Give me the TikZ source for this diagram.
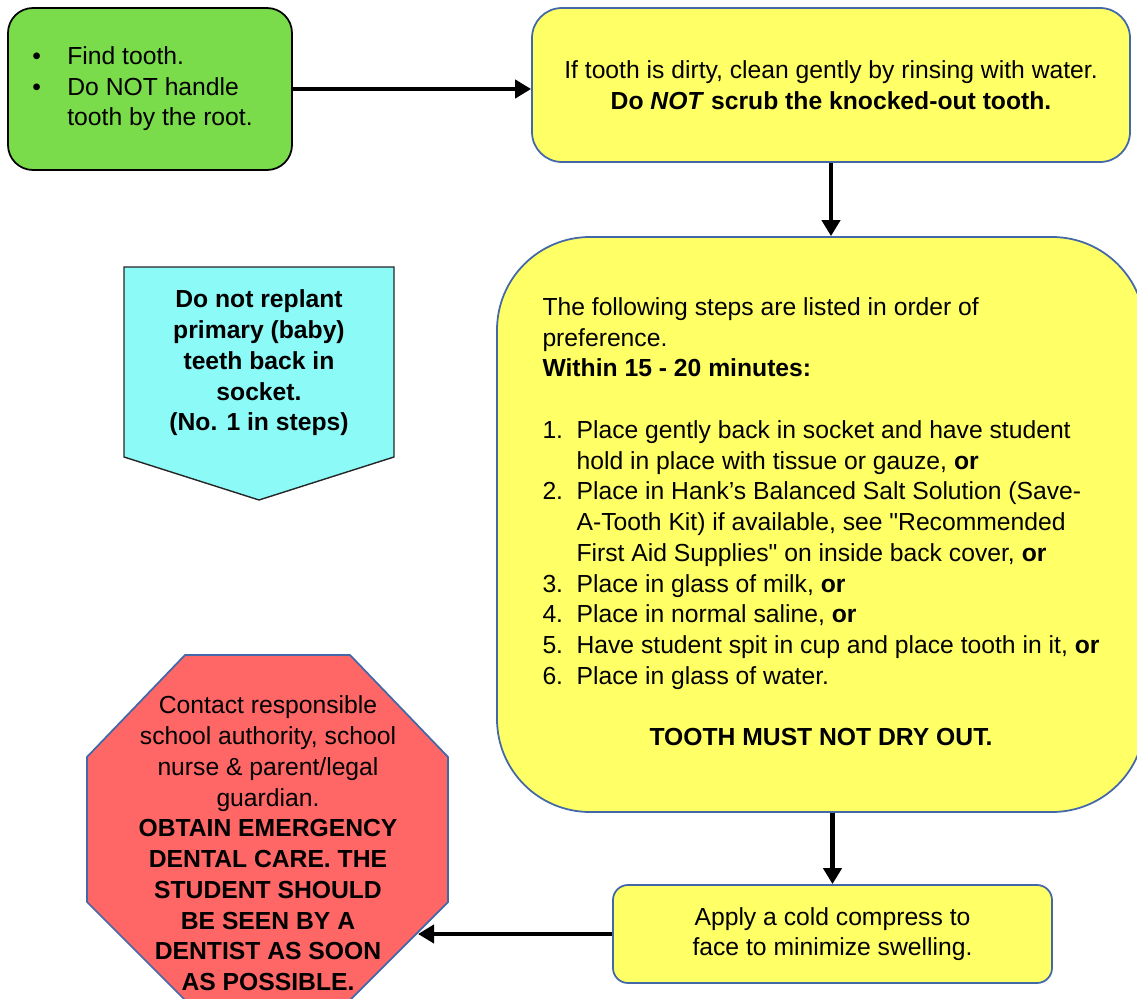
\documentclass[tikz,border=0pt]{standalone}
\usepackage{fontspec}
\setmainfont{Liberation Sans}
\usepackage{tikz}
\usetikzlibrary{arrows.meta}
\definecolor{toothGreen}{HTML}{7ADC4B}
\definecolor{noteYellow}{HTML}{FFFF66}
\definecolor{hintCyan}{HTML}{8CFAF7}
\definecolor{stopRed}{HTML}{FF6666}
\definecolor{edgeBlue}{HTML}{4368A8}
\newcommand{\stepNum}[1]{\makebox[1.38em][l]{#1}}
\newcommand{\bulletItem}{\makebox[1.42em][l]{\textbullet}}

\begin{document}
\begin{tikzpicture}[
  every node/.style={font=\fontsize{14.05}{17.5}\selectfont},
  roundBox/.style={draw=edgeBlue, line width=1pt, fill=noteYellow, rounded corners=#1},
  flowArrow/.style={line width=2.3pt, -{Triangle[length=0.32cm,width=0.36cm]}}
]
\useasboundingbox (0,0) rectangle (22.74,19.96);
\clip (0,0) rectangle (22.74,19.96);

\node[roundBox=0.5cm, draw=black, fill=toothGreen, minimum width=5.68cm, minimum height=3.24cm] (find) at (3.00,18.18)
  {\begin{tabular}{@{}l@{\hspace{0.3cm}}}
   \bulletItem Find tooth.\\
   \bulletItem Do NOT handle\\
   \hspace*{1.42em}tooth by the root.
   \end{tabular}};
\node[roundBox=0.6cm, minimum width=11.96cm, minimum height=3.08cm, align=center] (rinse) at (16.62,18.26)
  {If tooth is dirty, clean gently by rinsing with water.\\ \textbf{Do \textit{NOT} scrub the knocked-out tooth.}};
\node[roundBox=1.86cm, minimum width=12.96cm, minimum height=11.5cm] (steps) at (16.42,9.47)
  {\begin{tabular}{@{}l@{}}
   The following steps are listed in order of\\
   preference.\\
   \textbf{Within 15 - 20 minutes:}\\
   \\
   \stepNum{1.}Place gently back in socket and have student\\
   \stepNum{}hold in place with tissue or gauze, \textbf{or}\\
   \stepNum{2.}Place in Hank’s Balanced Salt Solution (Save-\\
   \stepNum{}A-Tooth Kit) if available, see \textquotedbl Recommended\\
   \stepNum{}First Aid Supplies\textquotedbl{} on inside back cover, \textbf{or}\\
   \stepNum{3.}Place in glass of milk, \textbf{or}\\
   \stepNum{4.}Place in normal saline, \textbf{or}\\
   \stepNum{5.}Have student spit in cup and place tooth in it, \textbf{or}\\
   \stepNum{6.}Place in glass of water.\\
   \\
   \multicolumn{1}{@{}c@{}}{\textbf{TOOTH MUST NOT DRY OUT.}}
   \end{tabular}};
\node[roundBox=0.3cm, minimum width=8.78cm, minimum height=1.96cm, align=center] (cold) at (16.65,1.28)
  {Apply a cold compress to\\ face to minimize swelling.};

\draw[black!85, line width=0.8pt, fill=hintCyan] (2.48,14.62) -- (7.88,14.62) -- (7.88,10.82) -- (5.18,9.96) -- (2.48,10.82) -- cycle;
\node[align=center, font=\fontsize{14.05}{17.5}\selectfont\bfseries] (baby) at (5.18,12.70)
  {Do not replant\\ primary (baby)\\ teeth back in\\ socket.\\ (No. 1 in steps)};

\draw[edgeBlue, line width=1pt, fill=stopRed] (3.70,6.86) -- (7.00,6.86) -- (8.96,4.82) -- (8.96,1.92) -- (7.00,-0.04) -- (3.70,-0.04) -- (1.74,1.92) -- (1.74,4.82) -- cycle;
\node[align=center] (stop) at (5.36,3.09)
  {Contact responsible\\ school authority, school\\ nurse \& parent/legal\\ guardian.\\
   \textbf{OBTAIN EMERGENCY}\\ \textbf{DENTAL CARE. THE}\\ \textbf{STUDENT SHOULD}\\
   \textbf{BE SEEN BY A}\\ \textbf{DENTIST AS SOON}\\ \textbf{AS POSSIBLE.}};
\coordinate (stopEdge) at (8.36,1.28);

\draw[flowArrow] (find.east) -- (find.east -| rinse.west);
\draw[flowArrow] (rinse.south) -- (rinse.south |- steps.north);
\draw[flowArrow] (steps.south -| cold.north) -- (cold.north);
\draw[flowArrow] (cold.west) -- (stopEdge);
\end{tikzpicture}
\end{document}
